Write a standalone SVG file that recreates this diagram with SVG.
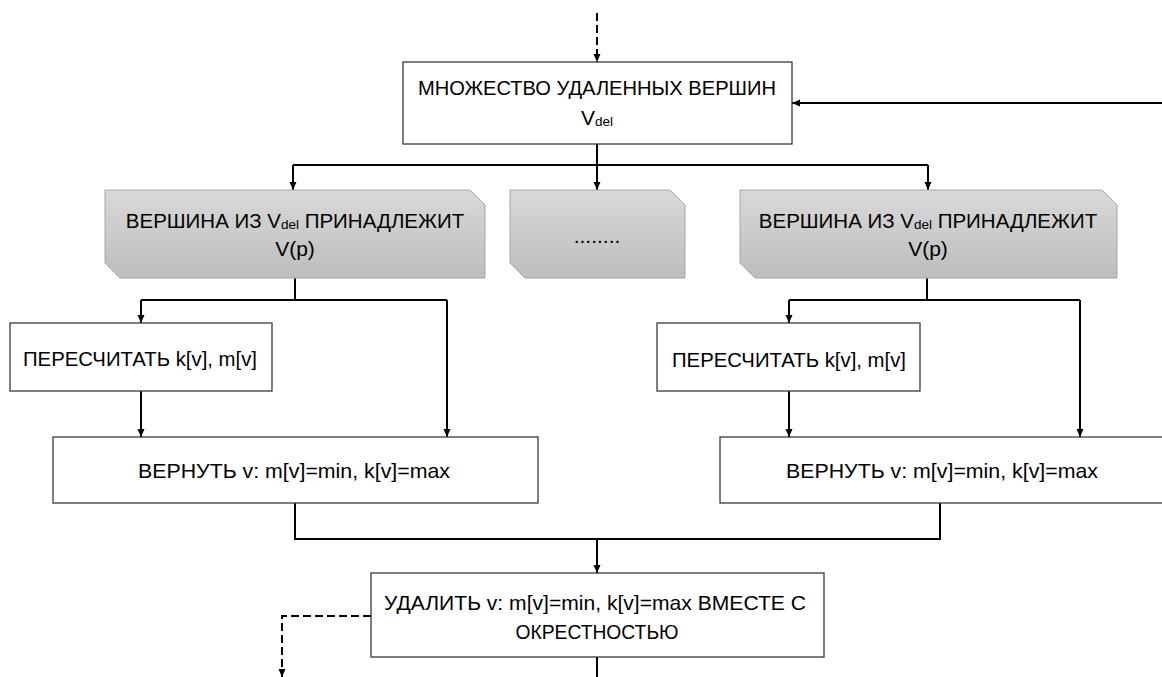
<svg xmlns="http://www.w3.org/2000/svg" width="1162" height="677" viewBox="0 0 1162 677">
<defs>
  <linearGradient id="gray" x1="0" y1="0" x2="0" y2="1">
    <stop offset="0" stop-color="#d9d9d9"/>
    <stop offset="1" stop-color="#bdbdbd"/>
  </linearGradient>
  <marker id="arr" markerWidth="8" markerHeight="8" viewBox="0 0 8 8" refX="8" refY="4" orient="auto" markerUnits="userSpaceOnUse">
    <path d="M0,0.5 L8,4 L0,7.5 Z" fill="#000"/>
  </marker>
</defs>
<style>
  .box { fill: #fff; stroke: #3a3a3a; stroke-width: 1.3; }
  .gbox { fill: url(#gray); stroke: #a6a6a6; stroke-width: 1; }
  .t { font-family: "Liberation Sans", Arial, sans-serif; font-size: 21px; fill: #000; text-anchor: middle; }
  .g { font-size: 20.5px; }
  .sub { font-size: 13.5px; }
  .c { fill: none; stroke: #000; stroke-width: 2; }
  .d { fill: none; stroke: #000; stroke-width: 2; stroke-dasharray: 8 4; }
</style>

<g id="connectors">
  <path class="d" d="M597,13 V62" marker-end="url(#arr)"/>
  <path class="c" d="M1162,103 H792" marker-end="url(#arr)"/>
  <path class="c" d="M597,144 V165"/>
  <path class="c" d="M293,165 H928"/>
  <path class="c" d="M293,165 V190" marker-end="url(#arr)"/>
  <path class="c" d="M597,165 V190" marker-end="url(#arr)"/>
  <path class="c" d="M928,165 V190" marker-end="url(#arr)"/>
  <path class="c" d="M295,278 V300"/>
  <path class="c" d="M141,300 H447"/>
  <path class="c" d="M141,300 V323" marker-end="url(#arr)"/>
  <path class="c" d="M447,300 V437" marker-end="url(#arr)"/>
  <path class="c" d="M141,391 V437" marker-end="url(#arr)"/>
  <path class="c" d="M927,278 V300"/>
  <path class="c" d="M789,300 H1080"/>
  <path class="c" d="M789,300 V323" marker-end="url(#arr)"/>
  <path class="c" d="M1080,300 V437" marker-end="url(#arr)"/>
  <path class="c" d="M789,391 V437" marker-end="url(#arr)"/>
  <path class="c" d="M295,503 V539 H940 V503"/>
  <path class="c" d="M597,539 V573" marker-end="url(#arr)"/>
  <path class="d" d="M371,616 H282 V677" marker-end="url(#arr)"/>
  <path class="c" d="M597,657 V677"/>
</g>

<g id="node-vdel">
  <rect class="box" x="403" y="62" width="389" height="82"/>
  <text class="t" x="597" y="95" textLength="358" lengthAdjust="spacingAndGlyphs">МНОЖЕСТВО УДАЛЕННЫХ ВЕРШИН</text>
  <text class="t" x="597" y="125">V<tspan class="sub" dy="1">del</tspan></text>
</g>

<g id="node-gray1">
  <path class="gbox" d="M105,190 H470 L485,205 V278 H120 L105,263 Z"/>
  <text class="t g" x="295" y="228">ВЕРШИНА ИЗ V<tspan class="sub" dy="1">del</tspan><tspan dy="-1"> ПРИНАДЛЕЖИТ</tspan></text>
  <text class="t" x="295" y="256">V(p)</text>
</g>

<g id="node-gray2">
  <path class="gbox" d="M510,190 H670 L685,205 V278 H525 L510,263 Z"/>
  <text class="t" x="597" y="243">........</text>
</g>

<g id="node-gray3">
  <path class="gbox" d="M740,190 H1102 L1117,205 V278 H755 L740,263 Z"/>
  <text class="t g" x="928" y="228">ВЕРШИНА ИЗ V<tspan class="sub" dy="1">del</tspan><tspan dy="-1"> ПРИНАДЛЕЖИТ</tspan></text>
  <text class="t" x="928" y="256">V(p)</text>
</g>

<g id="node-recalc-left">
  <rect class="box" x="10" y="323" width="262" height="68"/>
  <text class="t" x="140" y="366" textLength="234" lengthAdjust="spacingAndGlyphs">ПЕРЕСЧИТАТЬ k[v], m[v]</text>
</g>

<g id="node-return-left">
  <rect class="box" x="53" y="437" width="485" height="66"/>
  <text class="t" x="294" y="478" textLength="312" lengthAdjust="spacingAndGlyphs">ВЕРНУТЬ v: m[v]=min, k[v]=max</text>
</g>

<g id="node-recalc-right">
  <rect class="box" x="657" y="323" width="263" height="68"/>
  <text class="t" x="789" y="367" textLength="234" lengthAdjust="spacingAndGlyphs">ПЕРЕСЧИТАТЬ k[v], m[v]</text>
</g>

<g id="node-return-right">
  <rect class="box" x="720" y="437" width="445" height="66"/>
  <text class="t" x="942" y="478" textLength="312" lengthAdjust="spacingAndGlyphs">ВЕРНУТЬ v: m[v]=min, k[v]=max</text>
</g>

<g id="node-delete">
  <rect class="box" x="371" y="573" width="453" height="84"/>
  <text class="t" x="595" y="610" textLength="422" lengthAdjust="spacingAndGlyphs">УДАЛИТЬ v: m[v]=min, k[v]=max ВМЕСТЕ С</text>
  <text class="t" x="597" y="639" textLength="163" lengthAdjust="spacingAndGlyphs">ОКРЕСТНОСТЬЮ</text>
</g>
</svg>
